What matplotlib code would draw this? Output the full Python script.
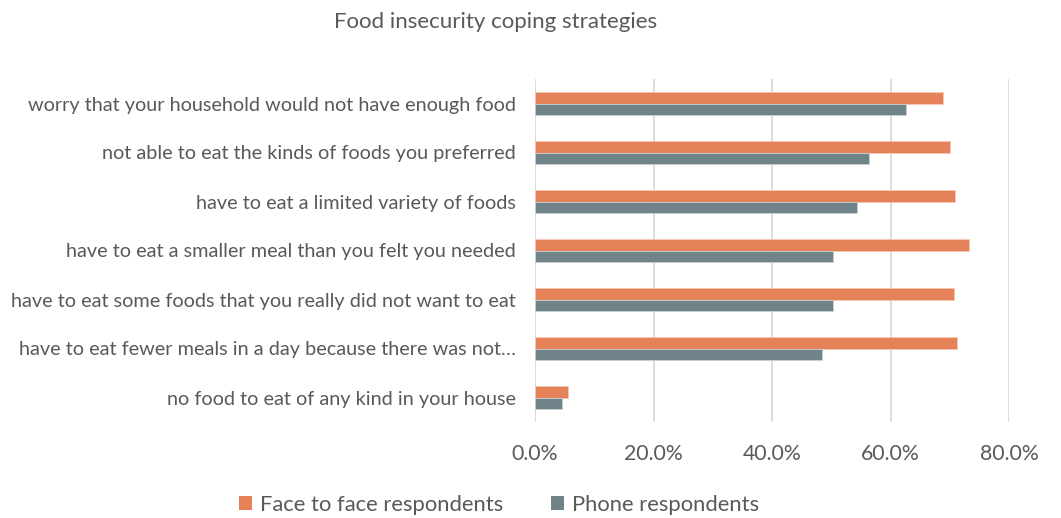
import matplotlib
matplotlib.use("Agg")
import matplotlib.pyplot as plt
import numpy as np
from matplotlib.ticker import FuncFormatter, MultipleLocator
from matplotlib.patches import Patch

categories = [
    "worry that your household would not have enough food",
    "not able to eat the kinds of foods you preferred",
    "have to eat a limited variety of foods",
    "have to eat a smaller meal than you felt you needed",
    "have to eat some foods that you really did not want to eat",
    "have to eat fewer meals in a day because there was not\u2026",
    "no food to eat of any kind in your house",
]
face_to_face = [0.689, 0.700, 0.709, 0.732, 0.708, 0.712, 0.056]
phone = [0.627, 0.563, 0.544, 0.503, 0.503, 0.485, 0.045]

series_names = ["Face to face respondents", "Phone respondents"]
orange = "#E5825A"
slate = "#6F8388"
text_gray = "#595959"

plt.rcParams["font.family"] = ["Lato", "DejaVu Sans"]

fig = plt.figure(figsize=(10.61, 5.18), dpi=100)
ax = fig.add_axes([535 / 1061, 1 - 422 / 518, (1009 - 535) / 1061, (422 - 79) / 518])

y = np.arange(len(categories))
h = 0.235
ax.barh(y - h / 2, face_to_face, height=h, color=orange, edgecolor="#F4C9B6", linewidth=0.6, zorder=3)
ax.barh(y + h / 2, phone, height=h, color=slate, edgecolor="#C7D0D2", linewidth=0.6, zorder=3)

ax.set_ylim(len(categories) - 0.5, -0.5)
ax.set_xlim(0, 0.8)
ax.xaxis.set_major_locator(MultipleLocator(0.2))
ax.xaxis.set_major_formatter(FuncFormatter(lambda v, _: f"{v * 100:.1f}%"))
ax.grid(axis="x", color="#D9D9D9", linewidth=1.3, zorder=0)
ax.set_axisbelow(True)
for s in ax.spines.values():
    s.set_visible(False)

ax.set_yticks(y)
ax.set_yticklabels(categories, fontsize=14.3, color=text_gray)
ax.tick_params(axis="y", length=0, pad=14)
ax.tick_params(axis="x", length=0, pad=16, labelsize=15.3, labelcolor=text_gray)

fig.text(496 / 1061, 1 - 22 / 518, "Food insecurity coping strategies",
         ha="center", va="center", fontsize=16, color=text_gray)

handles = [Patch(facecolor=orange, edgecolor="none"), Patch(facecolor=slate, edgecolor="none")]
fig.legend(handles, series_names, loc="center", bbox_to_anchor=(499 / 1061, 1 - 505 / 518),
           ncol=2, frameon=False, fontsize=15.8, labelcolor=text_gray,
           handlelength=0.6, handleheight=0.6, handletextpad=0.35, columnspacing=2.2)

fig.savefig("out.png", dpi=100, facecolor="white")
